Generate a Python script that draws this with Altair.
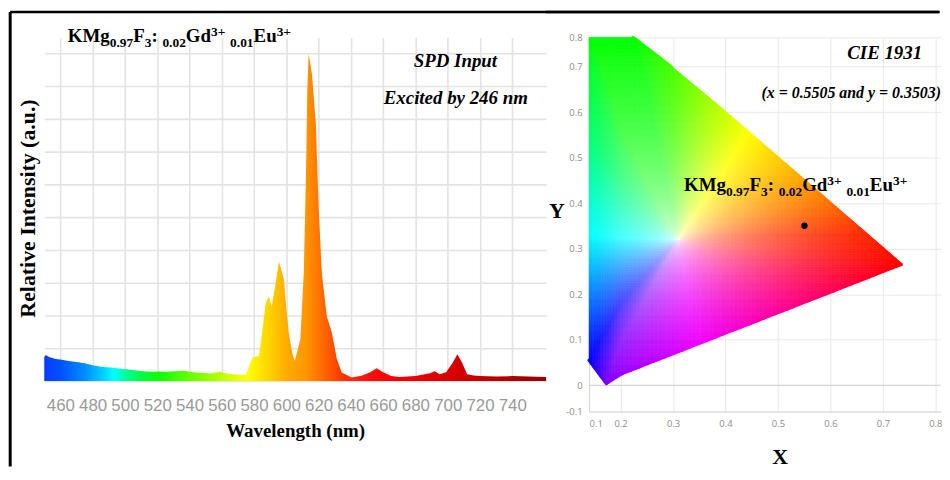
import numpy as np
import pandas as pd
import altair as alt

alt.data_transformers.disable_max_rows()

# ---------------- data: emission spectrum (left panel) ----------------
WAVELENGTH = [450, 451, 453, 457, 461, 465, 470, 475, 480, 486,
              491, 496, 501, 506, 511, 516, 521, 526, 531, 537,
              542, 547, 553, 559, 563, 568, 572, 575, 577, 579,
              583, 585, 587.2, 589.2, 590.9, 593.4, 595.4, 597, 598.5, 599.9,
              601.5, 603.6, 605.2, 608.7, 610.8, 612.2, 613.0, 613.8, 614.6, 615.9,
              618.3, 620, 622, 625.1, 628.2, 631.3, 634.3, 640.5, 646.6, 652,
              656, 660, 665, 670, 675, 680, 685, 689, 692, 695,
              699, 703, 706, 709, 712, 716, 720, 730, 740, 750,
              761]
INTENSITY = [0.073, 0.079, 0.073, 0.067, 0.065, 0.061, 0.058, 0.054, 0.048, 0.043,
             0.041, 0.038, 0.036, 0.033, 0.030, 0.028, 0.029, 0.028, 0.030, 0.031,
             0.027, 0.025, 0.023, 0.028, 0.023, 0.020, 0.019, 0.018, 0.045, 0.072,
             0.076, 0.148, 0.238, 0.258, 0.227, 0.299, 0.364, 0.339, 0.309, 0.227,
             0.148, 0.087, 0.061, 0.127, 0.329, 0.632, 0.885, 0.998, 0.976, 0.935,
             0.784, 0.530, 0.329, 0.197, 0.148, 0.067, 0.026, 0.011, 0.016, 0.027,
             0.039, 0.027, 0.015, 0.012, 0.014, 0.015, 0.020, 0.024, 0.030, 0.021,
             0.027, 0.055, 0.082, 0.055, 0.021, 0.017, 0.015, 0.014, 0.015, 0.014,
             0.012]
X_TICKS_NM = [460, 480, 500, 520, 540, 560, 580, 600, 620, 640, 660, 680, 700, 720, 740]
Y_GRID_INT = [0, 0.1, 0.2, 0.3, 0.4, 0.5, 0.6, 0.7, 0.8, 0.9, 1.0]

SPEC_STOP_NM = [450, 460, 475, 487, 493, 500, 510, 522, 535, 550, 565, 576,
                590, 600, 612, 622, 635, 650, 670, 700, 730, 761]
SPEC_STOP_COLOR = ["#0a3cff", "#0050ff", "#008cff", "#00d4ff", "#00ffff", "#00ffa0",
                   "#00ff40", "#10ff00", "#50ff00", "#90ff00", "#d4ff00", "#ffff00",
                   "#ffd000", "#ffac00", "#ff9600", "#ff6c00", "#ff3400", "#ff1010",
                   "#f00000", "#dc0000", "#b80000", "#960000"]

# ---------------- data: CIE 1931 diagram (right panel) ----------------
GAMUT_X = [0.100, 0.224, 0.3016, 0.3731, 0.4441, 0.5125, 0.5752, 0.6270, 0.6658,
           0.7347, 0.5415, 0.3482, 0.155, 0.100, 0.100, 0.100, 0.100]
GAMUT_Y = [0.800, 0.800, 0.6923, 0.6245, 0.5547, 0.4866, 0.4242, 0.3725, 0.3340,
           0.2653, 0.1782, 0.0911, 0.004, 0.055, 0.180, 0.330, 0.550]
GAMUT_COLOR = ["#00ff00", "#00ff00", "#4cff00", "#a6ff00", "#ffff00", "#ffc400",
               "#ff8a00", "#ff5200", "#ff2a00", "#ff0000", "#ff0080", "#f000ff",
               "#8000ff", "#0000ff", "#0070ff", "#00ffff", "#00ff70"]
WHITE_POINT = [0.31, 0.32]
CIE_X = [0.5505]
CIE_Y = [0.3503]
CIE_X_TICKS = [0.1, 0.2, 0.3, 0.4, 0.5, 0.6, 0.7, 0.8]
CIE_Y_TICKS = [-0.1, 0, 0.1, 0.2, 0.3, 0.4, 0.5, 0.6, 0.7, 0.8]

SERIF = "Liberation Serif, Times New Roman, serif"
NARROW = "Liberation Sans Narrow, Arial Narrow, Liberation Sans, sans-serif"
SANS = "Open Sans, Liberation Sans, Arial, sans-serif"


def label(text, x, y, size, align="left", italic=False, weight="bold",
          font=SERIF, color="black"):
    return alt.Chart(alt.Data(values=[{}])).mark_text(
        text=text, align=align, baseline="alphabetic", font=font, fontSize=size,
        fontWeight=weight, fontStyle="italic" if italic else "normal", color=color
    ).encode(x=alt.value(x), y=alt.value(y))


# Times-Bold advance widths (em) for laying out the sub/superscript formula
TB = {'K': .778, 'M': .944, 'g': .5, 'F': .611, 'G': .778, 'd': .556, 'E': .667,
      'u': .556, '.': .25, ':': .333, ' ': .25, '+': .57}
SEGS = [("KMg", "n"), ("0.97", "sub"), ("F", "n"), ("3", "sub"), (": ", "n"),
        ("0.02", "sub"), ("Gd", "n"), ("3+", "sup"), (" ", "n"), ("0.01", "sub"),
        ("Eu", "n"), ("3+", "sup")]


def formula(x0, y0, S=19, s=13.5):
    out = []
    x = x0
    for txt, kind in SEGS:
        size = S if kind == "n" else s
        dy = 0 if kind == "n" else (4.8 if kind == "sub" else -6.8)
        if txt.strip():
            out.append(label(txt.strip(), x, y0 + dy, size))
        x += sum(TB.get(ch, .5) for ch in txt) * size
    return out


# ---------------- left panel ----------------
LW, LH = 505.4, 346
spec = pd.DataFrame({"wl": WAVELENGTH, "inten": INTENSITY})
span = SPEC_STOP_NM[-1] - SPEC_STOP_NM[0]
grad = alt.Gradient(
    gradient="linear",
    stops=[alt.GradientStop(color=c, offset=(n - SPEC_STOP_NM[0]) / span)
           for n, c in zip(SPEC_STOP_NM, SPEC_STOP_COLOR)],
    x1=0, x2=1, y1=0, y2=0)

area = alt.Chart(spec).mark_area(color=grad, interpolate="linear").encode(
    x=alt.X("wl:Q", scale=alt.Scale(domain=[450, 761], nice=False, zero=False),
            axis=alt.Axis(values=X_TICKS_NM, grid=True, gridColor="#e3e3e3", gridWidth=1.6,
                          ticks=False, domain=False, labelFont=NARROW, labelFontSize=17,
                          labelColor="#9a9a9a", labelPadding=17,
                          title="Wavelength (nm)", titleFont=SERIF, titleFontSize=19,
                          titleFontWeight="bold", titleColor="black",
                          titleBaseline="alphabetic", titleY=56.3)),
    y=alt.Y("inten:Q", scale=alt.Scale(domain=[0, LH / 330], nice=False),
            axis=alt.Axis(values=Y_GRID_INT, grid=True, gridColor="#e3e3e3", gridWidth=1.6,
                          labels=False, ticks=False, domain=False,
                          title="Relative Intensity (a.u.)", titleFont=SERIF,
                          titleFontSize=22, titleFontWeight="bold", titleColor="black",
                          titleAngle=270, titleAlign="center", titleBaseline="middle",
                          titleX=-16.8, titleY=171.8)),
)

frame_v = alt.Chart(alt.Data(values=[{}])).mark_rule(color="black", strokeWidth=3).encode(
    x=alt.value(-34.3), y=alt.value(-25.5), y2=alt.value(432.0))
frame_h = alt.Chart(alt.Data(values=[{}])).mark_rule(color="black", strokeWidth=2.5).encode(
    x=alt.value(-34.3), x2=alt.value(901.7), y=alt.value(-25.5))

left = alt.layer(
    area,
    *formula(23.7, 5.0),
    label("SPD Input", 414, 30.0, 19, align="center", italic=True),
    label("Excited by 246 nm", 414.4, 67.3, 19, align="center", italic=True),
    frame_v, frame_h,
).properties(width=LW, height=LH)

# ---------------- right panel ----------------
RW, RH = 354, 376.6
XS = alt.Scale(domain=[0.1, 0.2, 0.81], range=[0, 31.7, RW], nice=False, zero=False)
YS = alt.Scale(domain=[-0.1, 0, 0.7, 0.8], range=[RH, 350.3, 29.3, 0], nice=False, zero=False)
XAX = alt.Axis(values=CIE_X_TICKS, format=".1f", grid=True, gridColor="#e8e8e8", ticks=False,
               domain=True, domainColor="#d8d8d8", labelColor="#8c8c8c", labelFont=SANS,
               labelFontSize=9.5, labelPadding=7, title="X", titleFont=SERIF,
               titleFontSize=22, titleFontWeight="bold", titleColor="black",
               titleBaseline="alphabetic", titleX=192, titleY=52.5)
YAX = alt.Axis(values=CIE_Y_TICKS, grid=True, gridColor="#e8e8e8", ticks=False,
               domain=True, domainColor="#d8d8d8", labelColor="#8c8c8c", labelFont=SANS,
               labelFontSize=9.5, labelPadding=7,
               labelExpr="datum.value == 0 ? '0' : replace(format(datum.value, '.1f'), '\u2212', '-')",
               title="Y", titleFont=SERIF, titleFontSize=22, titleFontWeight="bold",
               titleColor="black", titleAngle=0, titleAlign="center",
               titleBaseline="alphabetic", titleX=-33, titleY=181.3)


def hex_rgb(h):
    return [int(h[i:i + 2], 16) for i in (1, 3, 5)]


# colour raster of the gamut, interpolated from the boundary colours toward the white point
A = np.stack([GAMUT_X, GAMUT_Y], 1).astype(float)
B = np.roll(A, -1, 0)
CA = np.array([hex_rgb(c) for c in GAMUT_COLOR], float)
CB = np.roll(CA, -1, 0)
W = np.array(WHITE_POINT)
step = 0.005
cx = np.arange(0.1 + step / 2, 0.74, step)
cy = np.arange(0.0 + step / 2, 0.8, step)
PX, PY = np.meshgrid(cx, cy)
P = np.stack([PX.ravel(), PY.ravel()], 1)
d = P - W
e = B - A
r = A - W
with np.errstate(divide="ignore", invalid="ignore"):
    den = d[:, None, 0] * e[None, :, 1] - d[:, None, 1] * e[None, :, 0]
    s_ = (r[None, :, 0] * e[None, :, 1] - r[None, :, 1] * e[None, :, 0]) / den
    u_ = (r[None, :, 0] * d[:, None, 1] - r[None, :, 1] * d[:, None, 0]) / den
valid = np.isfinite(s_) & (s_ > 0) & (u_ >= -1e-9) & (u_ <= 1 + 1e-9)
sm = np.where(valid, s_, np.inf)
j = np.argmin(sm, axis=1)
idx = np.arange(len(P))
sb = sm[idx, j]
inside = sb >= 1
t = np.where(np.isfinite(sb), 1 / sb, 0)
uu = np.nan_to_num(u_[idx, j])
edge = CA[j] * (1 - uu)[:, None] + CB[j] * uu[:, None]
col = 255 + (edge - 255) * (t ** 0.5)[:, None]
col = np.clip(np.round(col), 0, 255).astype(int)
cells = pd.DataFrame({
    "x": np.round(P[inside, 0] - step / 2, 4),
    "x2": np.round(P[inside, 0] + step / 2, 4),
    "y": np.round(P[inside, 1] - step / 2, 4),
    "y2": np.round(P[inside, 1] + step / 2, 4),
    "c": ["#%02x%02x%02x" % tuple(v) for v in col[inside]],
})

# smooth boundary: short coloured segments along the slanted edges
rows = []
seg = 0
for k in range(1, 13):
    a, b = A[k], A[(k + 1) % len(A)]
    n = 12
    for q in range(n):
        f0, f1 = q / n, (q + 1) / n
        fc = (f0 + f1) / 2
        cc = CA[k] * (1 - fc) + CA[(k + 1) % len(A)] * fc
        hexc = "#%02x%02x%02x" % tuple(int(round(v)) for v in cc)
        for f in (f0, f1):
            p = a + (b - a) * f
            rows.append({"seg": seg, "x": round(p[0], 5), "y": round(p[1], 5), "c": hexc})
        seg += 1
edges = pd.DataFrame(rows)

zero_line = alt.Chart(pd.DataFrame({"x": [0.1], "x2": [0.81], "y": [0.0]})).mark_rule(
    color="#d0d0d0", strokeWidth=1).encode(
    x=alt.X("x:Q", scale=XS, axis=XAX), x2="x2:Q", y=alt.Y("y:Q", scale=YS, axis=YAX))

raster = alt.Chart(cells).mark_rect(strokeWidth=0.6).encode(
    x=alt.X("x:Q", scale=XS, axis=XAX), x2="x2:Q",
    y=alt.Y("y:Q", scale=YS, axis=YAX), y2="y2:Q",
    color=alt.Color("c:N", scale=None), stroke=alt.Stroke("c:N", scale=None))

edge_lines = alt.Chart(edges).mark_line(strokeWidth=3.2, strokeCap="round").encode(
    x=alt.X("x:Q", scale=XS, axis=XAX), y=alt.Y("y:Q", scale=YS, axis=YAX),
    detail="seg:N", color=alt.Color("c:N", scale=None))

dot = alt.Chart(pd.DataFrame({"x": CIE_X, "y": CIE_Y})).mark_circle(
    size=40, color="black", opacity=1).encode(
    x=alt.X("x:Q", scale=XS, axis=XAX), y=alt.Y("y:Q", scale=YS, axis=YAX))

frame_h2 = alt.Chart(alt.Data(values=[{}])).mark_rule(color="black", strokeWidth=2.5).encode(
    x=alt.value(-44), x2=alt.value(RW - 2), y=alt.value(-25.5))

right = alt.layer(
    zero_line, raster, edge_lines, dot,
    *formula(95.7, 155.0),
    label("CIE 1931", 297.7, 21.3, 19, align="center", italic=True),
    label("(x = 0.5505 and y = 0.3503)", 264.0, 61.3, 16, align="center", italic=True),
    frame_h2,
).properties(width=RW, height=RH)

chart = alt.hconcat(left, right, spacing=42.6, bounds="flush").properties(
    padding={"left": 0.5, "top": 1, "right": 0, "bottom": 0}
).configure_view(strokeWidth=0)

chart.save("out.html", embed_options={"renderer": "svg", "actions": False})
